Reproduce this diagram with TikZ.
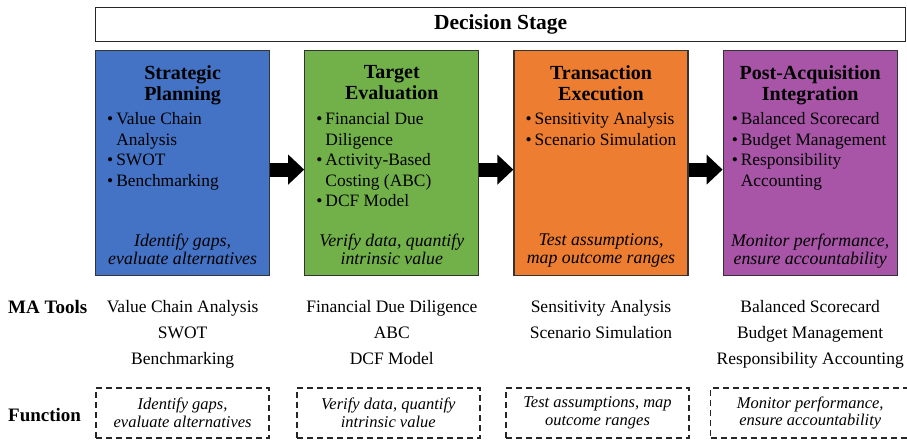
\documentclass[tikz,border=0pt]{standalone}
\usepackage{fontspec}
\setmainfont{Liberation Serif}
\usetikzlibrary{arrows.meta,positioning}

\definecolor{planblue}{HTML}{4472C4}
\definecolor{evalgreen}{HTML}{72B04A}
\definecolor{dealorange}{HTML}{ED7D31}
\definecolor{integpurple}{HTML}{A855A8}

\begin{document}
\begin{tikzpicture}[x=1pt,y=-1pt,node distance=34pt,
                    >={Triangle[length=16pt,width=29pt]}]
  \tikzstyle{banner}=[draw=black!85,line width=1.3pt,anchor=north west,
                      minimum width=810pt,minimum height=34pt,
                      font=\fontsize{21.5}{24}\selectfont\bfseries]
  \tikzstyle{stage}=[draw=black!80,line width=1.2pt,inner sep=0pt,
                     minimum width=174pt,minimum height=225pt]
  \tikzstyle{stagetitle}=[align=center,inner sep=0pt,
                          font=\fontsize{20}{21}\selectfont\bfseries]
  \tikzstyle{toollist}=[inner sep=0pt,font=\fontsize{17.4}{20.5}\selectfont]
  \tikzstyle{stagegoal}=[align=center,inner sep=0pt,
                         font=\fontsize{17.8}{18.5}\selectfont\itshape]
  \tikzstyle{rowlabel}=[anchor=west,inner sep=0pt,
                        font=\fontsize{19}{21}\selectfont\bfseries]
  \tikzstyle{toolcol}=[anchor=north,align=center,inner sep=0pt,
                       font=\fontsize{17.5}{26}\selectfont]
  \tikzstyle{funcbox}=[draw=black!85,line width=1.5pt,dash pattern=on 6pt off 4pt,
                       minimum height=50pt,align=center,inner sep=0pt,
                       font=\fontsize{16.5}{17.5}\selectfont\itshape]

  \useasboundingbox (0,0) rectangle (907,441);

  \node[banner] (decision) at (95,7) {Decision Stage};

  % the four stages
  \node[stage,fill=planblue,anchor=north west] (plan) at (95,50) {};
  \node[stage,fill=evalgreen,right=of plan] (eval) {};
  \node[stage,fill=dealorange,right=of eval] (deal) {};
  \node[stage,fill=integpurple,right=of deal] (integ) {};

  \node[stagetitle,below=15pt of plan.north] (plantitle) {Strategic\\Planning};
  \node[stagetitle,below=15pt of eval.north] (evaltitle) {Target\\Evaluation};
  \node[stagetitle,below=15pt of deal.north] (dealtitle) {Transaction\\Execution};
  \node[stagetitle,below=15pt of integ.north] (integtitle) {Post-Acquisition\\Integration};

  \node[toollist,below right=60pt and 12pt of plan.north west] (planlist)
    {\begin{tabular}{@{}l@{\hspace{3pt}}l@{}}
       \textbullet & Value Chain\\ & Analysis\\
       \textbullet & SWOT\\ \textbullet & Benchmarking
     \end{tabular}};
  \node[toollist,below right=60pt and 12pt of eval.north west] (evallist)
    {\begin{tabular}{@{}l@{\hspace{3pt}}l@{}}
       \textbullet & Financial Due\\ & Diligence\\
       \textbullet & Activity-Based\\ & Costing (ABC)\\
       \textbullet & DCF Model
     \end{tabular}};
  \node[toollist,below right=60pt and 12pt of deal.north west] (deallist)
    {\begin{tabular}{@{}l@{\hspace{3pt}}l@{}}
       \textbullet & Sensitivity Analysis\\ \textbullet & Scenario Simulation
     \end{tabular}};
  \node[toollist,below right=60pt and 9pt of integ.north west] (integlist)
    {\begin{tabular}{@{}l@{\hspace{3pt}}l@{}}
       \textbullet & Balanced Scorecard\\ \textbullet & Budget Management\\
       \textbullet & Responsibility\\ & Accounting
     \end{tabular}};

  \node[stagegoal,below=183.5pt of plan.north] (plangoal) {Identify gaps,\\evaluate alternatives};
  \node[stagegoal,below=183.5pt of eval.north] (evalgoal) {Verify data, quantify\\intrinsic value};
  \node[stagegoal,below=183.5pt of deal.north] (dealgoal) {Test assumptions,\\map outcome ranges};
  \node[stagegoal,below=183.5pt of integ.north] (integgoal) {Monitor performance,\\ensure accountability};

  \foreach \a/\b in {plan/eval,eval/deal,deal/integ}
    \draw[->,line width=14pt] ([yshift=-6.5pt]\a.east) -- ([yshift=-6.5pt]\b.west);

  % rows below
  \coordinate (toolrow) at (0,300);
  \coordinate (funcrow) at (0,413);

  \node[rowlabel] (matools) at (8,307) {MA Tools};
  \node[rowlabel] (function) at (8,415) {Function};

  \node[toolcol] (plantools) at (plan |- toolrow) {Value Chain Analysis\\SWOT\\Benchmarking};
  \node[toolcol] (evaltools) at (eval |- toolrow) {Financial Due Diligence\\ABC\\DCF Model};
  \node[toolcol] (dealtools) at (deal |- toolrow) {Sensitivity Analysis\\Scenario Simulation};
  \node[toolcol] (integtools) at (integ |- toolrow)
    {Balanced Scorecard\\Budget Management\\Responsibility Accounting};

  \node[funcbox,minimum width=173pt] (planfunc) at (plan |- funcrow)
    {Identify gaps,\\evaluate alternatives};
  \node[funcbox,minimum width=183pt,xshift=-3.5pt] (evalfunc) at (eval |- funcrow)
    {Verify data, quantify\\intrinsic value};
  \node[funcbox,minimum width=183pt,xshift=-3.5pt] (dealfunc) at (deal |- funcrow)
    {Test assumptions, map\\outcome ranges};
  \node[funcbox,minimum width=199pt] (integfunc) at (integ |- funcrow)
    {Monitor performance,\\ensure accountability};
\end{tikzpicture}
\end{document}
